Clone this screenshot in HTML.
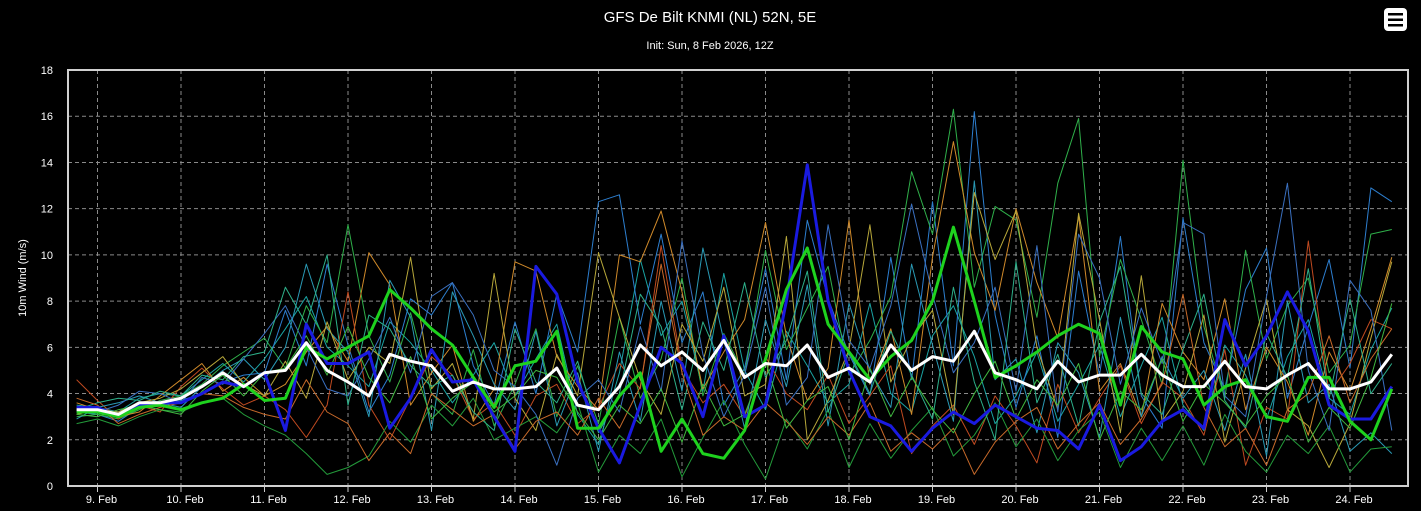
<!DOCTYPE html>
<html><head><meta charset="utf-8"><style>
body{margin:0;background:#000;}
svg{display:block;font-family:"Liberation Sans","DejaVu Sans",sans-serif;}
</style></head><body>
<svg id="chart" width="1421" height="511" viewBox="0 0 1421 511">
<rect x="0" y="0" width="1421" height="511" fill="#000"/>
<text x="710" y="22" fill="#fff" font-size="15" text-anchor="middle">GFS De Bilt KNMI (NL) 52N, 5E</text>
<text x="710" y="49" fill="#fff" font-size="11" text-anchor="middle">Init: Sun, 8 Feb 2026, 12Z</text>
<g>
<rect x="1384" y="8" width="23" height="23" rx="4" fill="#fff"/>
<rect x="1388" y="13" width="15" height="2.5" fill="#000"/>
<rect x="1388" y="18.5" width="15" height="2.5" fill="#000"/>
<rect x="1388" y="24" width="15" height="2.5" fill="#000"/>
</g>
<text transform="translate(26,278) rotate(-90)" fill="#fff" font-size="11" text-anchor="middle">10m Wind (m/s)</text>
<g id="grid"></g>
<g id="series"></g>
<rect x="68" y="70" width="1340" height="416" fill="none" stroke="#d0d0d0" stroke-width="2"/>
<g id="axes"></g>
</svg>
<script>
const startDay = 8.75;
const stepDays = 0.25;
const yTicks = [0,2,4,6,8,10,12,14,16,18];
const dayTicks = [9,10,11,12,13,14,15,16,17,18,19,20,21,22,23,24];
const dayLabels = ["9. Feb","10. Feb","11. Feb","12. Feb","13. Feb","14. Feb","15. Feb","16. Feb","17. Feb","18. Feb","19. Feb","20. Feb","21. Feb","22. Feb","23. Feb","24. Feb"];

const meanSeries = [3.3,3.3,3.1,3.6,3.6,3.8,4.3,4.9,4.3,4.9,5.0,6.2,5.0,4.5,3.9,5.7,5.4,5.2,4.1,4.5,4.2,4.2,4.3,5.1,3.5,3.3,4.3,6.1,5.2,5.8,5.0,6.3,4.7,5.3,5.2,6.1,4.7,5.1,4.5,6.1,5.0,5.6,5.4,6.7,4.9,4.6,4.2,5.4,4.5,4.8,4.8,5.7,4.8,4.3,4.3,5.4,4.3,4.2,4.8,5.3,4.2,4.2,4.5,5.7];
const controlSeries = [3.2,3.2,3.0,3.4,3.5,3.3,3.6,3.8,4.4,3.7,3.8,6.0,5.5,6.0,6.5,8.5,7.7,6.8,6.1,4.7,3.4,5.2,5.4,6.7,2.5,2.5,3.9,4.9,1.5,2.9,1.4,1.2,2.4,5.5,8.5,10.3,7.0,5.8,4.6,5.6,6.3,8.0,11.2,8.0,4.7,5.2,5.8,6.5,7.0,6.6,3.5,6.9,5.8,5.5,3.5,4.3,4.6,3.0,2.8,4.7,4.7,2.8,2.0,4.2];
const operSeries = [3.4,3.4,3.0,3.5,3.6,3.6,4.0,4.5,4.3,4.9,2.4,7.0,5.3,5.3,5.8,2.5,3.8,5.9,4.5,4.6,3.0,1.5,9.5,8.3,4.5,2.5,1.0,3.5,6.0,5.3,3.0,6.5,3.0,3.5,8.0,13.9,8.0,5.0,3.0,2.6,1.5,2.5,3.2,2.7,3.5,3.0,2.5,2.4,1.6,3.5,1.1,1.7,2.8,3.3,2.5,7.2,5.2,6.5,8.4,6.7,3.5,2.9,2.9,4.3];

const member1 = [3.5,3.4,3.2,3.8,4.0,3.9,4.6,5.3,4.5,5.5,6.8,8.2,6.0,5.2,4.3,7.1,6.2,5.0,3.6,4.8,6.2,3.9,5.5,7.0,3.1,1.8,4.9,9.8,6.5,8.0,4.1,9.2,5.0,3.3,6.7,5.2,3.6,4.4,7.9,4.0,3.2,6.5,7.8,5.6,2.7,3.9,5.8,2.8,4.4,6.1,3.0,5.2,7.3,3.5,2.4,6.1,4.8,2.9,5.6,7.2,3.8,3.1,5.9,7.7];
const member2 = [3.2,3.1,2.8,3.4,3.5,3.7,4.0,4.5,4.8,4.9,7.6,5.2,9.6,6.1,3.2,4.8,8.1,7.4,8.8,5.2,3.5,7.1,4.0,8.3,5.8,12.3,12.6,7.0,10.9,6.2,8.4,3.5,5.1,9.4,4.6,11.5,8.1,5.7,3.9,9.9,4.6,12.3,5.2,16.2,7.4,3.4,6.5,2.1,9.3,4.8,10.8,3.9,2.5,11.6,6.2,4.2,8.5,10.3,3.8,6.9,9.8,5.1,12.9,12.3];
const member3 = [3.0,3.1,2.9,3.3,3.7,3.9,4.4,5.2,5.8,6.4,5.1,7.8,6.2,11.3,6.5,4.5,7.5,4.0,3.1,5.9,2.6,4.4,6.8,3.0,5.2,2.7,7.3,3.8,5.5,9.0,3.9,6.6,4.8,10.2,5.9,7.7,9.5,4.8,6.3,8.2,13.6,10.9,16.3,8.6,12.1,11.5,7.3,13.1,15.9,5.6,9.8,7.2,4.4,14.1,6.9,3.8,10.2,5.5,7.8,9.0,4.9,6.1,10.9,11.1];
const member4 = [3.6,3.3,3.0,3.2,3.9,4.6,5.3,4.1,4.7,3.9,4.4,5.8,6.9,5.4,10.1,8.7,3.5,4.9,6.1,2.8,4.2,9.7,9.3,5.6,4.3,3.3,10.0,9.7,11.9,8.4,4.2,5.8,7.2,11.4,6.5,3.7,5.1,11.5,4.4,6.8,3.1,9.9,14.9,10.1,7.6,12.0,8.8,6.4,11.7,4.1,5.3,3.0,7.9,5.8,4.6,8.1,3.3,6.0,4.5,2.2,5.8,4.1,6.8,9.9];
const member5 = [4.6,3.7,2.9,3.5,3.2,4.3,5.1,4.2,3.5,3.9,3.3,2.1,3.5,8.4,3.5,2.0,3.8,5.6,4.8,2.9,3.6,2.2,3.9,4.4,2.7,3.4,5.3,4.2,10.4,5.1,3.6,4.4,3.0,5.6,4.0,3.3,4.8,2.7,3.9,5.2,1.4,2.6,3.5,1.8,3.9,2.6,1.0,4.4,2.3,3.8,5.2,2.7,4.5,3.8,2.2,5.9,0.9,3.4,2.9,10.6,4.0,5.3,7.2,6.8];
const member6 = [2.9,3.4,3.6,3.9,3.6,3.4,4.3,5.0,5.5,4.6,6.0,9.6,6.8,5.8,3.0,8.9,7.3,2.4,8.4,6.5,4.4,3.3,6.7,2.6,4.9,1.5,5.8,2.8,8.0,4.1,10.3,6.3,2.5,7.2,4.3,8.7,2.6,7.9,5.0,3.4,9.6,6.1,2.8,13.2,4.6,5.5,2.3,6.2,4.9,2.1,7.3,3.0,5.6,3.8,5.0,2.4,5.7,1.3,8.0,3.6,4.4,1.5,2.3,1.4];
const member7 = [3.1,3.3,3.2,3.6,3.8,4.2,4.9,5.6,4.4,3.9,5.4,3.8,7.1,4.6,6.0,5.3,9.9,4.2,5.3,2.9,9.2,3.8,2.4,5.7,3.9,10.1,7.3,4.6,3.1,7.0,5.4,8.6,3.9,4.4,10.8,2.0,3.7,5.9,11.3,4.5,6.4,7.6,3.1,12.7,9.8,11.9,6.0,3.3,11.8,7.2,2.3,9.1,2.8,4.1,7.4,1.9,5.1,8.1,3.3,2.6,0.8,2.7,6.4,9.7];
const member8 = [2.7,2.9,2.6,3.0,3.3,3.2,3.6,3.8,3.1,2.6,2.2,1.4,0.5,0.8,1.3,2.8,1.9,3.5,2.6,3.8,2.0,2.5,3.0,2.3,3.6,0.6,2.2,1.4,2.9,0.4,2.1,3.7,1.8,0.3,2.9,1.6,3.3,0.8,2.7,1.2,2.4,3.4,1.3,2.2,3.6,1.7,2.9,1.1,2.4,3.2,0.8,2.5,1.1,2.6,0.9,3.1,1.5,0.6,2.2,1.4,2.6,0.6,1.6,1.7];
const member9 = [3.4,3.2,3.5,4.1,4.0,3.6,4.7,4.4,5.5,6.6,7.8,6.0,4.2,3.9,5.5,7.3,4.9,8.2,8.8,7.4,5.0,4.3,3.1,0.9,3.8,4.6,3.2,6.9,4.1,10.6,5.7,3.0,4.8,8.6,3.5,4.7,11.3,6.3,5.1,7.8,12.2,8.3,4.9,6.2,8.6,4.1,10.4,3.2,10.9,9.0,4.4,7.7,5.3,11.4,10.9,3.9,3.0,8.2,13.1,5.0,2.4,8.9,7.6,2.4];
const member10 = [3.3,3.6,3.8,3.7,4.1,3.9,4.8,4.6,5.6,5.8,8.6,7.0,10.0,3.5,7.4,6.8,5.2,4.3,4.8,3.2,2.4,6.8,4.5,3.6,5.4,2.3,4.0,8.3,6.9,3.3,7.1,5.0,8.8,4.7,6.3,9.3,3.2,5.8,4.0,6.7,4.8,2.9,8.6,4.5,2.0,9.7,3.6,5.7,2.6,7.1,9.5,4.0,3.1,5.9,8.3,3.7,2.5,6.6,4.7,9.4,3.8,8.1,4.0,5.3];
const member11 = [3.8,3.5,2.7,3.1,3.4,3.6,4.0,3.9,3.4,3.1,2.9,4.6,3.2,2.7,1.1,2.3,1.4,4.0,3.3,2.6,3.1,1.6,2.8,3.2,2.2,3.8,2.5,4.3,9.6,4.9,2.2,3.0,2.4,3.6,2.8,1.8,3.0,2.2,3.6,1.5,2.3,1.6,2.5,0.5,1.9,2.8,3.4,1.6,2.7,3.6,1.8,2.9,4.4,8.3,3.4,1.7,2.5,0.9,3.3,4.0,6.5,3.6,5.5,6.8];
const member12 = [3.1,3.0,3.3,3.5,3.3,3.1,4.1,4.8,3.9,4.9,5.1,6.5,4.8,6.9,4.7,3.6,5.6,2.9,3.8,4.5,3.2,3.9,5.0,4.7,3.2,2.0,3.5,2.7,4.2,1.9,4.4,2.6,3.1,5.4,2.5,3.7,4.3,2.0,5.1,3.0,4.7,3.3,2.3,4.0,5.4,2.9,4.6,3.5,5.3,2.0,4.1,3.3,5.5,2.8,4.4,3.6,2.6,3.9,4.8,1.9,3.4,2.5,4.7,7.9];

const members = [member1,member2,member3,member4,member5,member6,member7,member8,member9,member10,member11,member12];
const memberColors = ["#1aa3a3","#2d7fd0","#2fb04a","#d08a2a","#c04a20","#2a9ab5","#b8a83a","#239a3a","#3a70c0","#2db08a","#c86a2a","#40b840"];

const NS = "http://www.w3.org/2000/svg";
function xScale(day){ return 97.5 + 83.5*(day-9); }
function yScale(v){ return 486 - v*(416/18); }
function mk(tag, attrs, parent){ const e=document.createElementNS(NS,tag); for(const k in attrs) e.setAttribute(k,attrs[k]); parent.appendChild(e); return e; }

const grid=document.getElementById('grid'), series=document.getElementById('series'), axes=document.getElementById('axes');
yTicks.forEach(v=>{
  if(v>0 && v<18){
    const l=mk('line',{x1:68,x2:1408,y1:yScale(v),y2:yScale(v),stroke:'#8a8a8a','stroke-dasharray':'4,3','stroke-width':1},grid);
    
    
  }
  const t=mk('text',{x:53,y:yScale(v)+4,fill:'#fff','font-size':11,'text-anchor':'end'},axes);
  t.textContent=v;
  
  
});
dayTicks.forEach((d,i)=>{
  const x=xScale(d);
  const l=mk('line',{x1:x,x2:x,y1:70,y2:486,stroke:'#8a8a8a','stroke-dasharray':'4,3','stroke-width':1},grid);
  
  
  const tk=mk('line',{x1:x,x2:x,y1:486,y2:492,stroke:'#ccc','stroke-width':1},axes);
  
  
  const t=mk('text',{x:x+4,y:503,fill:'#fff','font-size':11,'text-anchor':'middle'},axes);
  t.textContent=dayLabels[i];
  
  
});
function pts(arr){ return arr.map((v,i)=>xScale(startDay+i*stepDays).toFixed(1)+','+yScale(v).toFixed(1)).join(' '); }
members.forEach((m,i)=>{
  const p=mk('polyline',{points:pts(m),fill:'none',stroke:memberColors[i],'stroke-width':1,'stroke-linejoin':'round'},series);
  
  
});
const op=mk('polyline',{points:pts(operSeries),fill:'none',stroke:'#1a1ae0','stroke-width':3,'stroke-linejoin':'round'},series);


const ct=mk('polyline',{points:pts(controlSeries),fill:'none',stroke:'#1ed21e','stroke-width':3,'stroke-linejoin':'round'},series);


const mn=mk('polyline',{points:pts(meanSeries),fill:'none',stroke:'#ffffff','stroke-width':3,'stroke-linejoin':'round'},series);


</script>
</body></html>
